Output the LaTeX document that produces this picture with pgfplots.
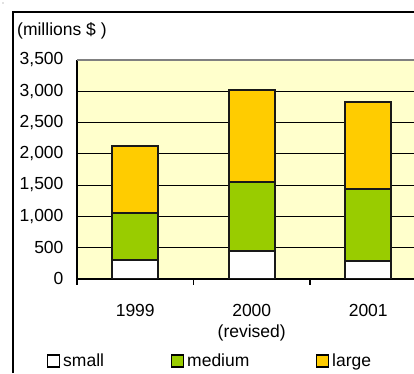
\documentclass[border=0pt]{standalone}
\usepackage{pgfplots}
\pgfplotsset{compat=1.18}
\usepackage{fontspec}
\setmainfont{Liberation Sans}
\definecolor{bgy}{HTML}{FFFFCC}
\definecolor{grn}{HTML}{99CC00}
\definecolor{org}{HTML}{FFCC00}
\newcommand\cf{\fontsize{17.5}{21.5}\selectfont}
\begin{document}
\begin{tikzpicture}
\useasboundingbox (0,0) rectangle (414pt,373pt);
\begin{axis}[
 at={(77pt,94.5pt)}, anchor=south west,
 scale only axis, width=337pt, height=218.5pt,
 ybar stacked, bar width=46pt,
 xmin=-0.5, xmax=2.3927, ymin=0, ymax=3500,
 axis background/.style={fill=bgy},
 axis x line*=bottom, axis y line*=left,
 axis line style={line width=2pt, black, -},
 xtick={0,1,2}, xticklabels={1999,{2000\\(revised)},2001},
 minor xtick={-0.5,0.5,1.5},
 tick align=outside, major tick length=0pt, minor tick length=6pt,
 minor tick style={line width=1.5pt, black},
 ytick={0,500,...,3000},
 extra y ticks={3500},
 extra y tick style={grid style={gray, line width=1.6pt}},
 ymajorgrids, grid style={black, line width=0.7pt},
 /pgf/number format/1000 sep={,},
 /pgf/number format/assume math mode=true,
 tick label style={font=\cf},
 yticklabel style={xshift=-10pt},
 xticklabel style={align=center, yshift=-22pt},
 legend image code/.code={\draw[#1,draw=black,line width=1.2pt] (0.6pt,-6pt) rectangle (12pt,6pt); \path[draw=none,fill=none] (12pt,0pt) -- (16pt,0pt);},
 legend columns=3,
 legend style={at={(-0.089,-0.3775)}, anchor=west, draw=none, fill=none, inner sep=0pt, font=\cf, nodes={inner sep=0pt}, column sep=0pt},
]
\addplot[fill=white, draw=black!90, line width=2pt] coordinates {(0,300) (1,440) (2,280)};
\addplot[fill=grn, draw=black!90, line width=2pt] coordinates {(0,745) (1,1110) (2,1150)};
\addplot[fill=org, draw=black!90, line width=2pt] coordinates {(0,1080) (1,1470) (2,1400)};
\legend{\makebox[108pt][l]{small},\makebox[129pt][l]{medium},large}
\end{axis}
\node[anchor=west, font=\cf, inner sep=0pt] at (17pt,342pt) {(millions \$ )};
\draw[line width=2pt] (13pt,0pt) -- (13pt,361pt) -- (414pt,361pt);
\fill[gray] (3pt,370pt) circle (0.6pt);
\end{tikzpicture}
\end{document}
